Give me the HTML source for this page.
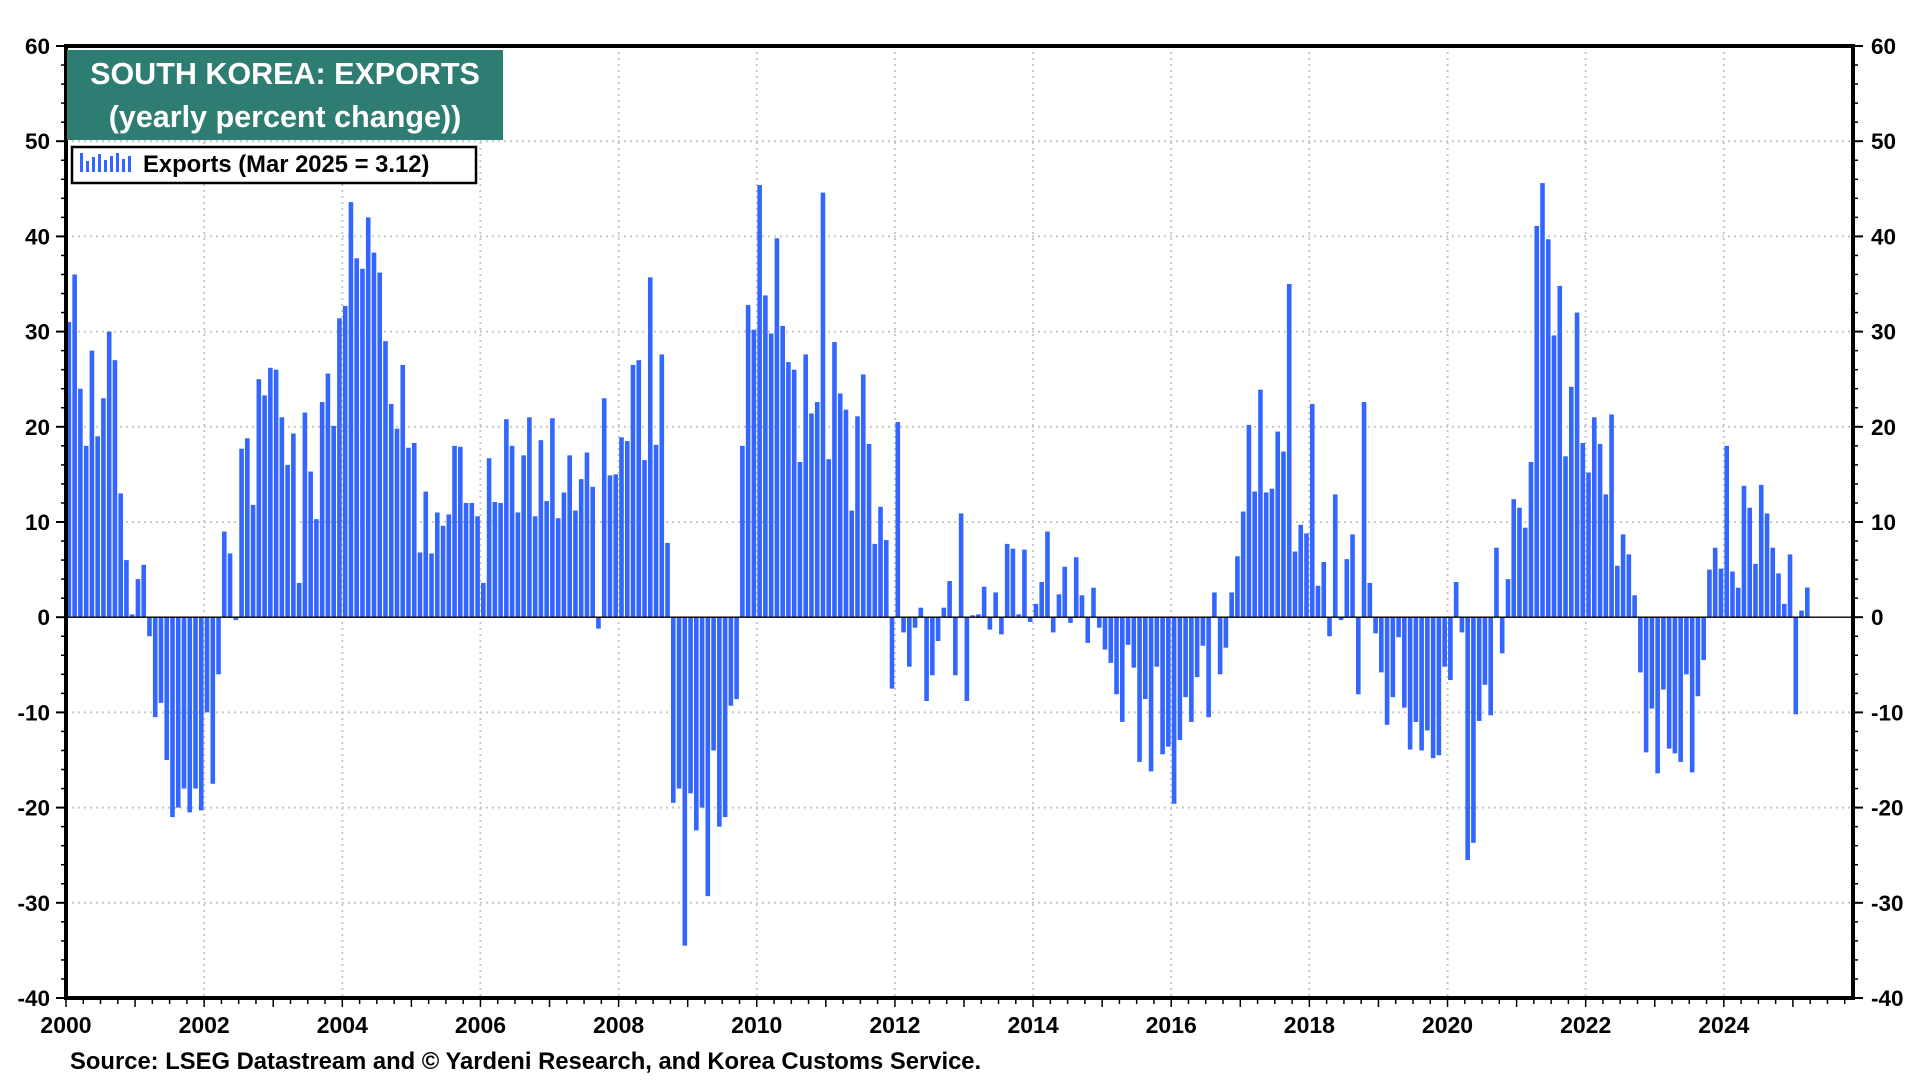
<!DOCTYPE html>
<html><head><meta charset="utf-8"><style>
html,body{margin:0;padding:0;background:#fff}
svg{display:block;font-family:"Liberation Sans",Arial,sans-serif}
</style></head><body>
<svg id="chart" width="1920" height="1080" viewBox="0 0 1920 1080" xmlns="http://www.w3.org/2000/svg">
<g id="grid"></g>
<g id="bars"></g>
<g id="axes"></g>
<g>
<rect x="67" y="50" width="436" height="90" fill="#2e7d72"/>
<text x="285" y="84" text-anchor="middle" fill="#fff" font-weight="bold" font-size="30.5">SOUTH KOREA: EXPORTS</text>
<text x="285" y="127" text-anchor="middle" fill="#fff" font-weight="bold" font-size="30.5">(yearly percent change))</text>
</g>
<g>
<rect x="72" y="147" width="404" height="36" fill="#fff" stroke="#000" stroke-width="2.5"/>
<g fill="#3366ff">
<rect x="80" y="153" width="3" height="19"/><rect x="86" y="161" width="3" height="11"/><rect x="92" y="157" width="3" height="15"/><rect x="98" y="154" width="3" height="18"/><rect x="104" y="160" width="3" height="12"/><rect x="110" y="156" width="3" height="16"/><rect x="116" y="153" width="3" height="19"/><rect x="122" y="159" width="3" height="13"/><rect x="128" y="156" width="3" height="16"/>
</g>
<text x="143" y="172" font-weight="bold" font-size="23.8">Exports (Mar 2025 = 3.12)</text>
</g>
<text x="70" y="1069" font-weight="bold" font-size="23.8">Source: LSEG Datastream and © Yardeni Research, and Korea Customs Service.</text>
</svg>
<script>
const startYear = 2000;
const yTicks = [60,50,40,30,20,10,0,-10,-20,-30,-40];
const xTickLabels = ['2000','2002','2004','2006','2008','2010','2012','2014','2016','2018','2020','2022','2024'];
const exports2000s = [31,36,24,18,28,19,23,30,27,13,6,0.3, 4,5.5,-2,-10.5,-9,-15,-21,-20,-18,-20.5,-18,-20.3, -10,-17.5,-6,9,6.7,-0.3,17.7,18.8,11.8,25,23.3,26.2, 26,21,16,19.3,3.6,21.5,15.3,10.3,22.6,25.6,20.1,31.4, 32.7,43.6,37.7,36.6,42,38.3,36.2,29,22.4,19.8,26.5,17.8, 18.3,6.8,13.2,6.7,11,9.6,10.8,18,17.9,12,12,10.6, 3.6,16.7,12.1,12,20.8,18,11,17,21,10.6,18.6,12.2, 20.9,10.4,13.1,17,11.2,14.5,17.3,13.7,-1.2,23,14.9,15, 18.9,18.5,26.5,27,16.5,35.7,18.1,27.6,7.8,-19.5,-18,-34.5];
const exports2010s = [-18.5,-22.4,-20,-29.3,-14,-22,-21,-9.3,-8.6,18,32.8,30.2, 45.4,33.8,29.8,39.8,30.6,26.8,26,16.3,27.6,21.4,22.6,44.6, 16.6,28.9,23.5,21.8,11.2,21.1,25.5,18.2,7.7,11.6,8.1,-7.5, 20.5,-1.6,-5.2,-1.1,1,-8.8,-6.1,-2.5,1,3.8,-6.1,10.9, -8.8,0.2,0.3,3.2,-1.3,2.6,-1.8,7.7,7.2,0.3,7.1,-0.5, 1.4,3.7,9,-1.6,2.4,5.3,-0.6,6.3,2.3,-2.7,3.1,-1.1, -3.4,-4.8,-8.1,-11,-2.9,-5.3,-15.2,-8.6,-16.2,-5.2,-14.4,-13.6, -19.6,-12.9,-8.4,-11,-6.3,-3,-10.5,2.6,-6,-3.2,2.6,6.4, 11.1,20.2,13.2,23.9,13.1,13.5,19.5,17.4,35,6.9,9.7,8.8, 22.4,3.3,5.8,-2,12.9,-0.3,6.1,8.7,-8.1,22.6,3.6,-1.7, -5.8,-11.3,-8.4,-2.1,-9.5,-13.9,-11,-14,-11.9,-14.8,-14.5,-5.2];
const exports2020s = [-6.6,3.7,-1.6,-25.5,-23.7,-10.9,-7.1,-10.3,7.3,-3.8,4,12.4, 11.5,9.4,16.3,41.1,45.6,39.7,29.6,34.8,16.9,24.2,32,18.3, 15.2,21,18.2,12.9,21.3,5.4,8.7,6.6,2.3,-5.8,-14.2,-9.6, -16.4,-7.6,-13.8,-14.3,-15.2,-6,-16.3,-8.3,-4.5,5,7.3,5.1, 18,4.8,3.1,13.8,11.5,5.6,13.9,10.9,7.3,4.6,1.4,6.6, -10.2,0.7,3.12];
const values = exports2000s.concat(exports2010s, exports2020s);

const L=66, R=1853, T=46, B=998, yMax=60, yMin=-40, xMax=2025.87;
const xs = t => L + (t - startYear) / (xMax - startYear) * (R - L);
const ys = v => T + (yMax - v) / (yMax - yMin) * (B - T);
const NS='http://www.w3.org/2000/svg';
function mk(tag, attrs, parent){const e=document.createElementNS(NS,tag);for(const k in attrs)e.setAttribute(k,attrs[k]);parent.appendChild(e);return e;}
const grid=document.getElementById('grid'), bars=document.getElementById('bars'), axes=document.getElementById('axes');

yTicks.forEach(v=>{
  if(v!==yMax && v!==yMin && v!==0){
    const g=mk('line',{x1:L,x2:R,y1:ys(v),y2:ys(v),stroke:'#c8c8c8','stroke-width':2,'stroke-dasharray':'2 4'},grid);
    
    
  }
  const tl=mk('text',{x:L-16,y:ys(v)+8,'text-anchor':'end','font-size':22.5,'font-weight':'bold'},axes);
  tl.textContent=v;
  
  
  const tr=mk('text',{x:R+18,y:ys(v)+8,'text-anchor':'start','font-size':22.5,'font-weight':'bold'},axes);
  tr.textContent=v;
  
  
  mk('line',{x1:L-10,x2:L,y1:ys(v),y2:ys(v),stroke:'#000','stroke-width':2},axes);
  mk('line',{x1:R,x2:R+10,y1:ys(v),y2:ys(v),stroke:'#000','stroke-width':2},axes);
});
for(let v=yMin; v<=yMax; v+=2){
  mk('line',{x1:L-5,x2:L,y1:ys(v),y2:ys(v),stroke:'#000','stroke-width':1.5},axes);
  mk('line',{x1:R,x2:R+5,y1:ys(v),y2:ys(v),stroke:'#000','stroke-width':1.5},axes);
}
xTickLabels.forEach(lab=>{
  const yr=+lab, x=xs(yr);
  if(yr>startYear){
    const g=mk('line',{x1:x,x2:x,y1:T,y2:B,stroke:'#c8c8c8','stroke-width':2,'stroke-dasharray':'2 4'},grid);
    
    
  }
  const t=mk('text',{x:x,y:B+35,'text-anchor':'middle','font-size':23,'font-weight':'bold'},axes);
  t.textContent=lab;
  
  
});
for(let q=0; startYear+q/4<=xMax; q++){
  const x=xs(startYear+q/4);
  mk('line',{x1:x,x2:x,y1:B,y2:B+(q%4===0?9:6),stroke:'#000','stroke-width':1.5},axes);
}
values.forEach((v,i)=>{
  const t=startYear+(i+0.5)/12, x=xs(t);
  const y0=ys(0), y1=ys(v);
  const b=mk('rect',{x:x-2.3,y:Math.min(y0,y1),width:4.6,height:Math.max(1,Math.abs(y1-y0)),fill:'#3366ff'},bars);
  
  
});
const z=mk('line',{x1:L,x2:R,y1:ys(0),y2:ys(0),stroke:'#000','stroke-width':1.3},axes);


const f=mk('rect',{x:L,y:T,width:R-L,height:B-T,fill:'none',stroke:'#000','stroke-width':4},axes);


</script>
</body></html>
